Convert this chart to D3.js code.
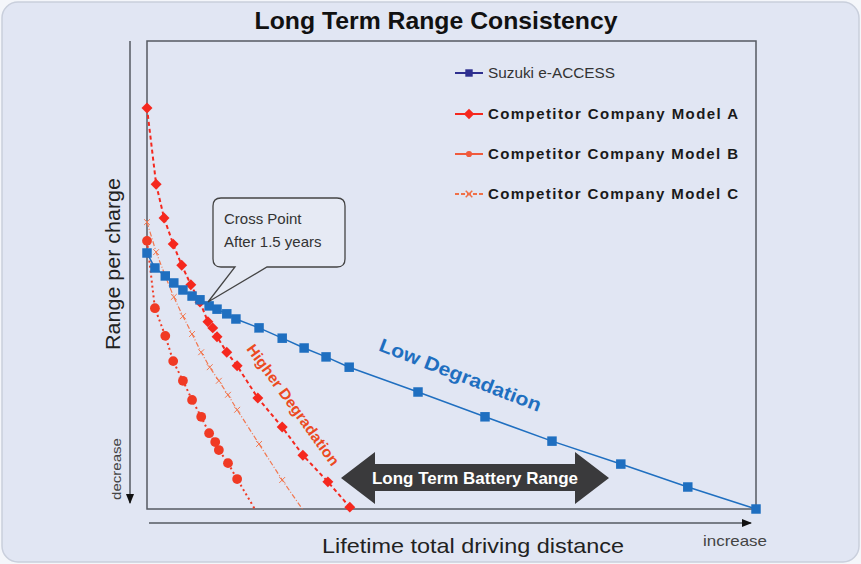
<!DOCTYPE html>
<html lang="en">
<head>
    <meta charset="UTF-8">
    <title>Long Term Range Consistency</title>
    <style>
        body {
            margin: 0;
            background-color: #f4f6fa;
            font-family: "Liberation Sans", Arial, sans-serif;
        }
        .legend text { font-size: 15px; font-weight: bold; fill: #1a1a1a; }
    </style>
</head>
<body>
    <div id="chart"></div>

    <script src="https://d3js.org/d3.v7.min.js"></script>
    <script>
        // --- data (x: lifetime distance 0-100, y: range per charge 0-100) ---
        const seriesNames = ["Suzuki e-ACCESS", "Competitor Company Model A",
                             "Competitor Company Model B", "Competitor Company Model C"];

        const suzukiX = [0, 1.3, 3.0, 4.4, 5.9, 7.4, 8.7, 10.2, 11.5, 13.1, 14.6, 18.4, 22.2, 25.8, 29.4, 33.2, 44.5, 55.5, 66.5, 77.8, 88.8, 100];
        const suzukiY = [54.7, 51.5, 49.8, 48.3, 46.8, 45.5, 44.7, 43.4, 42.7, 41.7, 40.6, 38.7, 36.5, 34.4, 32.5, 30.3, 25.0, 19.7, 14.5, 9.6, 4.7, 0];

        const modelAX = [0, 1.5, 2.8, 4.3, 5.7, 7.2, 8.7, 10.0, 10.8, 11.5, 13.1, 14.8, 18.2, 22.2, 25.6, 29.7, 33.3];
        const modelAY = [85.7, 69.4, 62.2, 56.6, 52.1, 47.9, 44.2, 40.0, 38.7, 36.8, 33.5, 30.6, 23.7, 17.5, 11.5, 5.8, 0.4];

        const modelBX = [0, 1.3, 3.0, 4.3, 5.9, 7.4, 8.9, 10.2, 11.2, 11.8, 13.3, 14.8, 17.7];
        const modelBY = [57.3, 42.9, 37.0, 31.6, 27.4, 23.3, 19.7, 16.2, 14.3, 12.6, 9.8, 6.4, 0];

        const modelCX = [0, 1.5, 3.0, 4.4, 5.9, 7.4, 8.9, 10.3, 11.8, 13.3, 14.8, 18.4, 22.2, 25.5];
        const modelCY = [61.3, 54.9, 49.8, 45.3, 41.2, 37.4, 33.5, 30.3, 27.4, 24.4, 21.2, 13.9, 6.2, 0];

        const W = 861, H = 564;
        const svg = d3.select("#chart").append("svg")
            .attr("width", W).attr("height", H);

        // card background
        svg.append("rect")
            .attr("x", 2).attr("y", 2).attr("width", W - 4).attr("height", H - 4)
            .attr("rx", 16)
            .attr("fill", "#e1e6f3").attr("stroke", "#c9cfdc").attr("stroke-width", 1.5);

        const x = d3.scaleLinear().domain([0, 100]).range([147, 756]);
        const y = d3.scaleLinear().domain([0, 100]).range([509, 41]);

        // plot frame
        svg.append("rect")
            .attr("x", x(0)).attr("y", y(100))
            .attr("width", x(100) - x(0)).attr("height", y(0) - y(100))
            .attr("fill", "none").attr("stroke", "#555a62").attr("stroke-width", 1.5);

        // arrow marker
        const defs = svg.append("defs");
        defs.append("marker")
            .attr("id", "tip")
            .attr("viewBox", "0 0 10 10").attr("refX", 9).attr("refY", 5)
            .attr("markerWidth", 7).attr("markerHeight", 7)
            .attr("orient", "auto")
          .append("path").attr("d", "M0,1L10,5L0,9Z").attr("fill", "#111");

        // y arrow (decrease) and x arrow (increase)
        svg.append("line")
            .attr("x1", 130).attr("y1", y(100)).attr("x2", 130).attr("y2", 503)
            .attr("stroke", "#555a62").attr("stroke-width", 1.5)
            .attr("marker-end", "url(#tip)");
        svg.append("line")
            .attr("x1", 149).attr("y1", 523).attr("x2", 751).attr("y2", 523)
            .attr("stroke", "#555a62").attr("stroke-width", 1.5)
            .attr("marker-end", "url(#tip)");

        // title and axis labels
        svg.append("text")
            .attr("x", 436).attr("y", 29)
            .attr("text-anchor", "middle")
            .attr("textLength", 363).attr("lengthAdjust", "spacingAndGlyphs")
            .style("font-size", "24px").style("font-weight", "bold").style("fill", "#111")
            .text("Long Term Range Consistency");

        svg.append("text")
            .attr("transform", "translate(120,264) rotate(-90)")
            .attr("text-anchor", "middle")
            .attr("textLength", 172).attr("lengthAdjust", "spacingAndGlyphs")
            .style("font-size", "21px").style("fill", "#222")
            .text("Range per charge");

        svg.append("text")
            .attr("transform", "translate(121,469) rotate(-90)")
            .attr("text-anchor", "middle")
            .attr("textLength", 62).attr("lengthAdjust", "spacingAndGlyphs")
            .style("font-size", "13px").style("fill", "#444")
            .text("decrease");

        svg.append("text")
            .attr("x", 473).attr("y", 553)
            .attr("text-anchor", "middle")
            .attr("textLength", 302).attr("lengthAdjust", "spacingAndGlyphs")
            .style("font-size", "21px").style("fill", "#222")
            .text("Lifetime total driving distance");

        svg.append("text")
            .attr("x", 735).attr("y", 546)
            .attr("text-anchor", "middle")
            .attr("textLength", 64).attr("lengthAdjust", "spacingAndGlyphs")
            .style("font-size", "15px").style("fill", "#444")
            .text("increase");

        // --- series ---
        const toPts = (xs, ys) => xs.map((v, i) => [v, ys[i]]);
        const line = d3.line().x(d => x(d[0])).y(d => y(d[1]));

        const series = [
            { name: seriesNames[0], pts: toPts(suzukiX, suzukiY), color: "#1f6fc0", dash: null, width: 1.5, shape: "square" },
            { name: seriesNames[1], pts: toPts(modelAX, modelAY), color: "#f5281e", dash: "4,3", width: 2, shape: "diamond" },
            { name: seriesNames[2], pts: toPts(modelBX, modelBY), color: "#f03a24", dash: "2,3", width: 2, shape: "circle" },
            { name: seriesNames[3], pts: toPts(modelCX, modelCY), color: "#f2774f", dash: "5,2,1,2", width: 1.2, shape: "cross" }
        ];

        const symbolFor = {
            square: d3.symbol().type(d3.symbolSquare).size(90),
            diamond: d3.symbol().type(d3.symbolSquare).size(60),
            circle: d3.symbol().type(d3.symbolCircle).size(75),
            cross: d3.symbol().type(d3.symbolX).size(24)
        };

        // draw competitor series first, Suzuki on top
        [series[3], series[2], series[1], series[0]].forEach(s => {
            svg.append("path")
                .datum(s.pts)
                .attr("d", line)
                .attr("fill", "none")
                .attr("stroke", s.color)
                .attr("stroke-width", s.width)
                .attr("stroke-dasharray", s.dash);

            // B and C lines run into the axis without a marker at the end
            const marked = (s.shape === "circle" || s.shape === "cross") ? s.pts.filter(d => d[1] > 0) : s.pts;
            svg.selectAll(null)
                .data(marked)
                .join("path")
                  .attr("transform", d => `translate(${x(d[0])},${y(d[1])})` + (s.shape === "diamond" ? " rotate(45)" : ""))
                  .attr("d", symbolFor[s.shape])
                  .attr("fill", s.shape === "cross" ? "none" : s.color)
                  .attr("stroke", s.shape === "cross" ? s.color : "none")
                  .attr("stroke-width", 1);
        });

        // --- legend ---
        const legend = svg.append("g").attr("class", "legend");
        const legendY = [73, 114, 154, 194];
        const legendColors = ["#2e2f8f", "#f5281e", "#f05a3c", "#f07048"];
        const legendShapes = [d3.symbolSquare, d3.symbolSquare, d3.symbolCircle, d3.symbolX];
        series.forEach((s, i) => {
            const g = legend.append("g").attr("transform", `translate(455,${legendY[i]})`);
            g.append("line")
                .attr("x1", 0).attr("x2", 28)
                .attr("stroke", legendColors[i]).attr("stroke-width", 2)
                .attr("stroke-dasharray", i === 3 ? "4,2" : null);
            g.append("path")
                .attr("transform", "translate(14,0)" + (i === 1 ? " rotate(45)" : ""))
                .attr("d", d3.symbol().type(legendShapes[i]).size(i === 3 ? 30 : i === 2 ? 30 : 55))
                .attr("fill", i === 3 ? "none" : legendColors[i])
                .attr("stroke", i === 3 ? legendColors[i] : "none")
                .attr("stroke-width", 1.5);
            const t = g.append("text")
                .attr("x", 33).attr("y", 5)
                .text(s.name);
            if (i === 0) {
                t.attr("textLength", 127).attr("lengthAdjust", "spacingAndGlyphs")
                 .style("font-size", "14px").style("font-weight", "normal").style("fill", "#333");
            } else {
                t.attr("textLength", 250).attr("lengthAdjust", "spacing");
            }
        });

        // --- annotations ---
        // callout "Cross Point"
        svg.append("path")
            .attr("d", "M221,198 H337 Q345,198 345,206 V259 Q345,267 337,267 H267 L208,302 L235,267 H221 Q213,267 213,259 V206 Q213,198 221,198 Z")
            .attr("fill", "#e6eaf4").attr("stroke", "#444").attr("stroke-width", 1.3);
        svg.append("text").attr("x", 224).attr("y", 224)
            .style("font-size", "15px").style("fill", "#333").text("Cross Point");
        svg.append("text").attr("x", 224).attr("y", 247)
            .style("font-size", "15px").style("fill", "#333").text("After 1.5 years");

        svg.append("text")
            .attr("transform", "translate(458,381) rotate(21)")
            .attr("text-anchor", "middle")
            .attr("textLength", 172).attr("lengthAdjust", "spacingAndGlyphs")
            .style("font-size", "19px").style("font-weight", "bold").style("fill", "#1f6fc0")
            .text("Low Degradation");

        svg.append("text")
            .attr("transform", "translate(289,408) rotate(54)")
            .attr("text-anchor", "middle")
            .attr("textLength", 146).attr("lengthAdjust", "spacingAndGlyphs")
            .style("font-size", "15px").style("font-weight", "bold").style("fill", "#ec4a22")
            .text("Higher Degradation");

        // double arrow "Long Term Battery Range"
        svg.append("path")
            .attr("d", "M341,478 L375,452 V464 H575 V452 L609,478 L575,504 V491 H375 V504 Z")
            .attr("fill", "#3a3a3c");
        svg.append("text")
            .attr("x", 475).attr("y", 484)
            .attr("text-anchor", "middle")
            .attr("textLength", 206).attr("lengthAdjust", "spacingAndGlyphs")
            .style("font-size", "17px").style("font-weight", "bold").style("fill", "#fff")
            .text("Long Term Battery Range");
    </script>
</body>
</html>
